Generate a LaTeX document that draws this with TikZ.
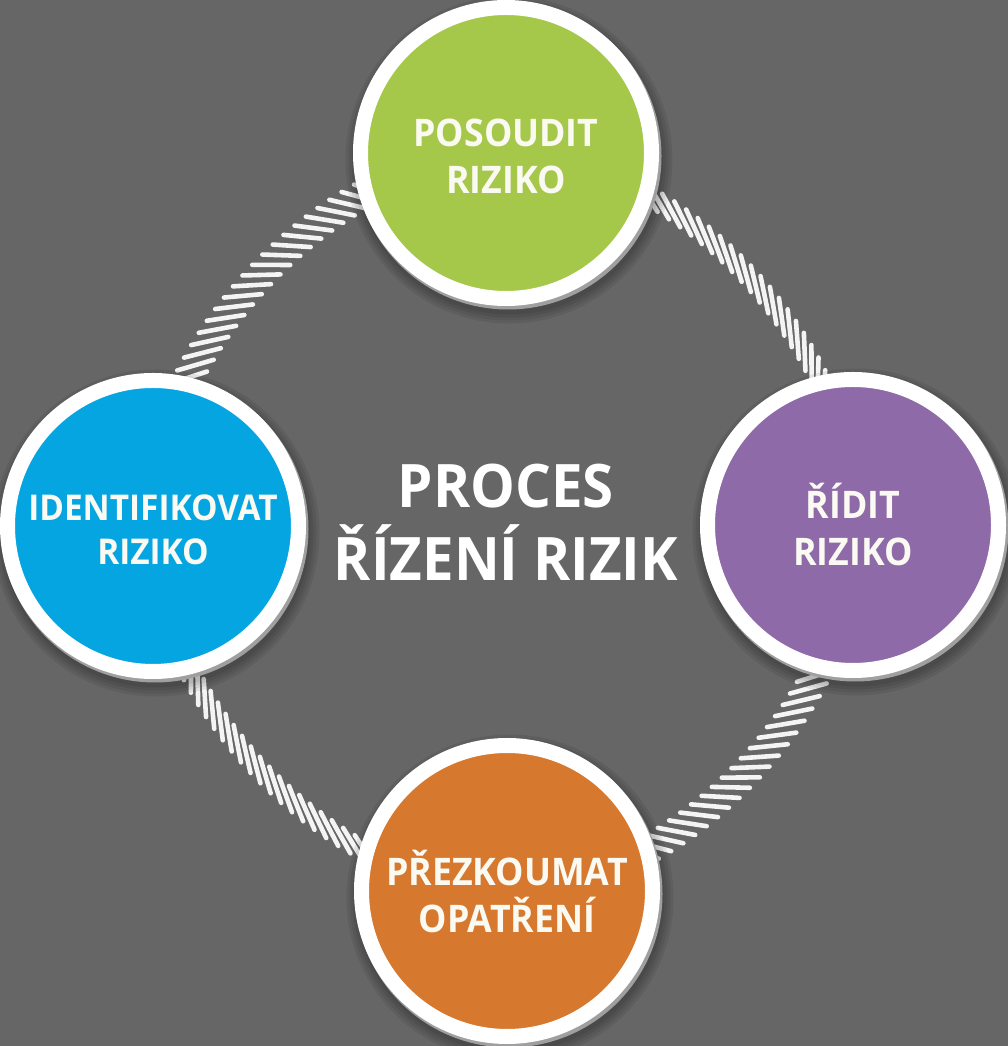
\documentclass[tikz,border=0pt]{standalone}
\usepackage{fontspec}
\newfontfamily\riskfont{Open Sans}[FakeStretch=0.94]
\usetikzlibrary{calc,decorations.markings}
\pgfdeclarelayer{back}
\pgfsetlayers{back,main}

\definecolor{bggray}{HTML}{666666}
\definecolor{tickwhite}{HTML}{F4F4F4}
\definecolor{labelwhite}{HTML}{FAFAF2}
\definecolor{posgreen}{HTML}{A6C84A}
\definecolor{idblue}{HTML}{05A5E2}
\definecolor{ridpurple}{HTML}{8E6AA8}
\definecolor{przorange}{HTML}{D6782D}

\tikzset{
  hatchtick/.style={draw=tickwhite, line width=4.6pt, line cap=round},
  hatch/.style={decorate, decoration={markings,
      mark=between positions 0 and 1 step 14pt with {\draw[hatchtick] (#1+180:19) -- (#1:19);}}},
  riskdisc/.style={circle, minimum size=291pt, inner sep=0pt, draw=white, line width=15pt,
    fill=#1, text=labelwhite, align=center,
    font=\riskfont\bfseries\fontsize{38}{47}\selectfont,
    preaction={draw=black, draw opacity=0.07, line width=36pt, transform canvas={shift={(3pt,-7pt)}}},
    preaction={draw=black, draw opacity=0.07, line width=30pt, transform canvas={shift={(3pt,-7pt)}}},
    preaction={draw=black, draw opacity=0.07, line width=24pt, transform canvas={shift={(3pt,-7pt)}}},
    preaction={draw=black, draw opacity=0.07, line width=18pt, transform canvas={shift={(3pt,-7pt)}}},
    preaction={draw=gray!75, line width=16pt, transform canvas={shift={(2pt,-3pt)}}}},
  titletext/.style={text=white, align=center,
    font=\riskfont\bfseries\fontsize{60}{73}\selectfont},
}

\begin{document}
\begin{tikzpicture}[x=1pt, y=1pt]
			%%%%% START %%%%%
			\useasboundingbox (0,0) rectangle (1008,1046);
			\begin{pgfonlayer}{back}
				\fill[bggray] (0,0) rectangle (1008,1046);
			\end{pgfonlayer}
			
			\node[riskdisc=posgreen] (posoudit) at (506,893) {\vphantom{Ř}POSOUDIT\\RIZIKO};
			\node[riskdisc=idblue, font=\riskfont\bfseries\fontsize{35.5}{44}\selectfont] (identifikovat) at (153,520) {\vphantom{Ř}IDENTIFIKOVAT\\RIZIKO};
			\node[riskdisc=ridpurple] (ridit) at (853,521) {ŘÍDIT\\RIZIKO};
			\node[riskdisc=przorange] (prezkoumat) at (507,155) {PŘEZKOUMAT\\OPATŘENÍ};
			
			\node[titletext] (title) at (506,524) {PROCES\\ŘÍZENÍ RIZIK};
			
			\begin{pgfonlayer}{back}
				\path[hatch=-45] (posoudit.center) to[bend right=45, looseness=0.88] (identifikovat.center);
				\path[hatch=-28] (identifikovat.center) to[bend right=45, looseness=0.88] (prezkoumat.center);
				\path[hatch=-45] (prezkoumat.center) to[bend right=45, looseness=0.88] (ridit.center);
				\path[hatch=-28] (ridit.center) to[bend right=45, looseness=0.88] (posoudit.center);
			\end{pgfonlayer}
			%%%%% END %%%%%
\end{tikzpicture}
\end{document}
